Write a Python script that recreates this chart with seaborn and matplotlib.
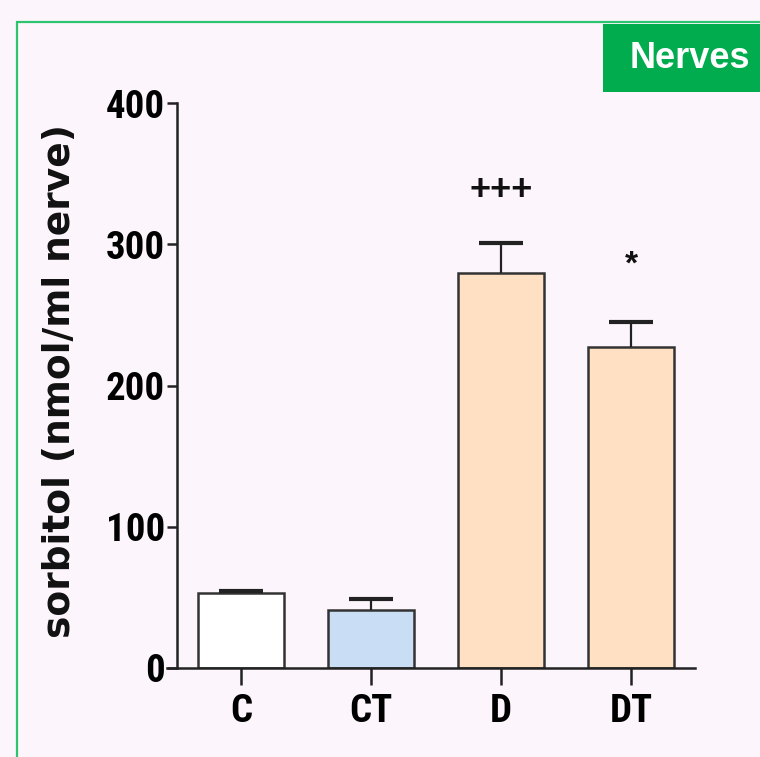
import numpy as np
import pandas as pd
import seaborn as sns
import matplotlib.pyplot as plt
from matplotlib.patches import Rectangle

groups = ["C", "CT", "D", "DT"]
sorbitol = [53, 41, 280, 227]
sem = [1.5, 8, 21, 18]
bar_colors = ["#ffffff", "#c9def5", "#ffe0c2", "#ffe0c2"]
marks = {"D": "+++", "DT": "*"}
mark_offset = {"D": 37, "DT": 40}
panel_label = "Nerves"
ylabel = "sorbitol (nmol/ml nerve)"

bg = "#fcf5fc"
sns.set_theme(style="ticks")
plt.rcParams["font.family"] = ["Liberation Sans Narrow", "Roboto Condensed", "DejaVu Sans"]

df = pd.DataFrame({"group": groups, "sorbitol": sorbitol})

fig = plt.figure(figsize=(7.6, 7.57), dpi=100, facecolor=bg)
ax = fig.add_axes([167 / 760, 89 / 757, 528 / 760, 565 / 757])
ax.set_facecolor(bg)

sns.barplot(data=df, x="group", y="sorbitol", hue="group", palette=bar_colors,
            saturation=1, width=0.66, edgecolor="#333333", linewidth=1.8,
            legend=False, errorbar=None, ax=ax)
eb = ax.errorbar(range(len(groups)), sorbitol, yerr=[np.zeros(len(sem)), sem],
                 fmt="none", ecolor="#222222", elinewidth=1.6, capsize=16,
                 capthick=3, zorder=1)
# only the upper cap, like Prism
eb[1][0].set_visible(False)

for i, g in enumerate(groups):
    if g in marks:
        ax.text(i, sorbitol[i] + sem[i] + mark_offset[g], marks[g],
                ha="center", va="center", fontsize=26 if g == "D" else 24,
                fontweight="bold", family=["Liberation Sans", "DejaVu Sans"],
                color="#111111")

ax.set_xlim(-0.57, 3.49)
ax.set_ylim(0, 400)
ax.set_yticks([0, 100, 200, 300, 400])
sns.despine(ax=ax)
ax.spines["left"].set_position(("data", -0.49))
for s in ("left", "bottom"):
    ax.spines[s].set_linewidth(1.8)
    ax.spines[s].set_color("#222222")
ax.tick_params(axis="y", length=7, width=1.8, colors="#222222", pad=2,
               labelsize=28, labelcolor="black")
ax.tick_params(axis="x", length=12, width=1.8, colors="#222222", pad=6,
               labelsize=28, labelcolor="black")
for lab in ax.get_xticklabels() + ax.get_yticklabels():
    lab.set_fontweight("bold")
ax.set_xlabel("")
ax.set_ylabel("")

fig.text(60 / 760, 1 - 381 / 757, ylabel, rotation=90, ha="center", va="center",
         fontsize=27, fontweight="bold", family=["DejaVu Sans"], color="#111111")

fig.add_artist(Rectangle((17 / 760, -0.1), 1.2, 1.1 - 22 / 757, transform=fig.transFigure,
                         fill=False, edgecolor="#2cc46e", linewidth=1.6))
fig.add_artist(Rectangle((603 / 760, 1 - 92 / 757), 0.3, 68 / 757, transform=fig.transFigure,
                         facecolor="#00ac4e", edgecolor="none"))
fig.text(690 / 760, 1 - 58 / 757, panel_label, ha="center", va="center", color="white",
         fontsize=26, fontweight="bold", family=["Liberation Sans", "DejaVu Sans"])

fig.savefig("out.png", dpi=100, facecolor=bg)
